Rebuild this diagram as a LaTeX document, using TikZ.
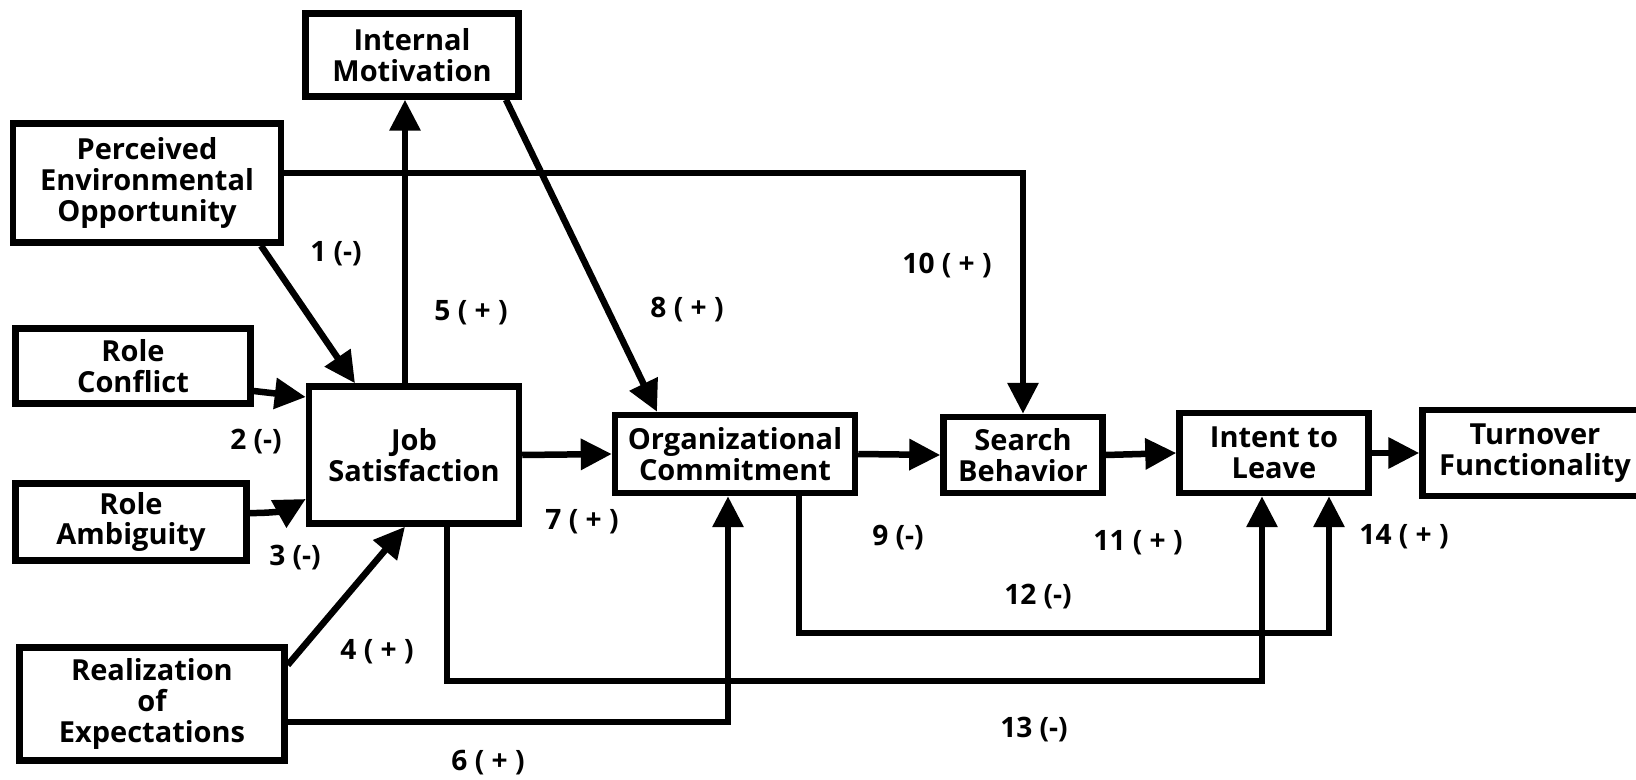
\documentclass[tikz,border=0pt]{standalone}
\usepackage{fontspec}
\setmainfont{Open Sans}
\usetikzlibrary{arrows.meta}

\begin{document}
\begin{tikzpicture}[x=0.02cm,y=-0.02cm]
        \tikzstyle{box}=[draw,line width=3.7pt,align=center,inner sep=0pt,font=\fontsize{16.5}{17.6}\selectfont\bfseries]
        \tikzstyle{arr}=[line width=3.7pt,-{Triangle[length=0.62cm,width=0.6cm]}]
        \tikzstyle{lbl}=[font=\fontsize{16}{18}\selectfont\bfseries]
        \useasboundingbox (0,0) rectangle (1636,780);

            \node[box,minimum width=4.26cm,minimum height=1.66cm] (im) at (412,55) {Internal\\Motivation};
            \node[box,minimum width=5.36cm,minimum height=2.38cm] (peo) at (147,183) {Perceived\\Environmental\\Opportunity};
            \node[box,minimum width=4.7cm,minimum height=1.5cm] (rc) at (133,366) {Role\\Conflict};
            \node[box,minimum width=4.62cm,minimum height=1.54cm] (ra) at (131,522) {Role\\Ambiguity};
            \node[box,minimum width=5.3cm,minimum height=2.26cm] (re) at (152,704) {Realization\\of\\Expectations};
            \node[box,minimum width=4.2cm,minimum height=2.74cm] (js) at (414,455) {Job\\Satisfaction};
            \node[box,minimum width=4.8cm,minimum height=1.56cm] (oc) at (735,454) {Organizational\\Commitment};
            \node[box,minimum width=3.18cm,minimum height=1.52cm] (sb) at (1023,455) {Search\\Behavior};
            \node[box,minimum width=3.78cm,minimum height=1.6cm] (il) at (1274,453) {Intent to\\Leave};
            \node[box,minimum width=4.5cm,minimum height=1.72cm] (tf) at (1535,453) {Turnover\\Functionality};

            \coordinate (x1) at (261,0);
            \coordinate (y1) at (355,0);
            \coordinate (x5) at (405,0);
            \coordinate (r12) at (1329,633);
            \coordinate (r13) at (1262,681);

            \draw[arr] (peo.south -| x1) -- (js.north -| y1);
            \draw[arr] ([yshift=-0.5cm]rc.east) -- ([yshift=1.16cm]js.west);
            \draw[arr] ([yshift=0.18cm]ra.east) to[bend right=15] ([yshift=-0.88cm]js.west);
            \draw[arr] ([yshift=0.78cm]re.east) -- (js.south -| x5);
            \draw[arr] (js.north -| x5) -- (im.south -| x5);
            \draw[arr] ([yshift=-0.36cm]re.east) -| ([xshift=-0.14cm]oc.south);
            \draw[arr] (js.east) -- (oc.west);
            \draw[arr] ([xshift=1.88cm]im.south) -- ([xshift=-1.56cm]oc.north);
            \draw[arr] (oc.east) -- (sb.west);
            \draw[arr] ([yshift=0.2cm]peo.east) -| (sb.north);
            \draw[arr] (sb.east) -- (il.west);
            \draw[arr] ([xshift=1.28cm]oc.south) |- (r12) -- (il.south -| r12);
            \draw[arr] ([xshift=0.66cm]js.south) |- (r13) -- (il.south -| r13);
            \draw[arr] (il.east) -- (tf.west);

            \node[lbl] (l1) at (336,254) {1 (-)};
            \node[lbl] (l2) at (256,442) {2 (-)};
            \node[lbl] (l3) at (295,558) {3 (-)};
            \node[lbl] (l4) at (377,652) {4 ( + )};
            \node[lbl] (l5) at (471,313) {5 ( + )};
            \node[lbl] (l6) at (488,763) {6 ( + )};
            \node[lbl] (l7) at (582,522) {7 ( + )};
            \node[lbl] (l8) at (687,310) {8 ( + )};
            \node[lbl] (l9) at (898,538) {9 (-)};
            \node[lbl] (l10) at (947,266) {10 ( + )};
            \node[lbl] (l11) at (1138,543) {11 ( + )};
            \node[lbl] (l12) at (1038,597) {12 (-)};
            \node[lbl] (l13) at (1034,730) {13 (-)};
            \node[lbl] (l14) at (1404,537) {14 ( + )};
        \end{tikzpicture}
\end{document}
